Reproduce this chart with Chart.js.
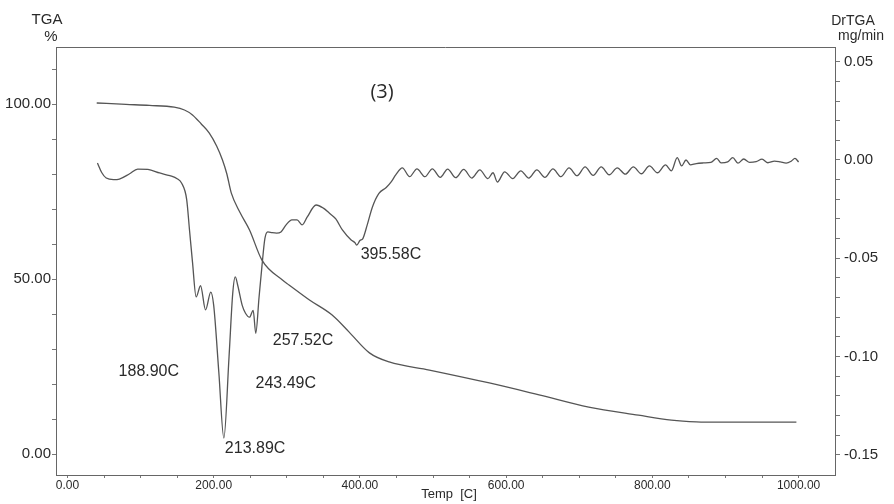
<!DOCTYPE html>
<html>
<head>
<meta charset="utf-8">
<script src="https://cdn.jsdelivr.net/npm/chart.js@4.4.1/dist/chart.umd.min.js"></script>
<style>
  body { margin: 0; background: #fff; }
  #wrap { width: 894px; height: 504px; }
</style>
</head>
<body>
<div id="wrap"><canvas id="tgaChart" width="894" height="504"></canvas></div>
<script>
"use strict";

// TGA trace: temperature (C) and remaining mass (%)
const tgaTemp = [40, 80, 112, 146, 160, 171, 183, 194, 204, 212, 218, 224, 236, 249, 266, 294, 303,
	331, 362, 385, 413, 440, 495, 577, 645, 713, 781, 826, 860, 895, 997];
const tgaMass = [100.3, 99.9, 99.6, 99.1, 98.3, 96.9, 94.3, 91.7, 88.0, 84.0, 80.0, 74.6, 69.0, 64.0, 55.4, 49.7, 48.3,
	44.0, 39.7, 34.9, 28.9, 26.3, 24.0, 20.3, 16.9, 13.4, 11.1, 9.7, 9.2, 9.1, 9.1];

// DrTGA trace: temperature (C) and rate (mg/min)
const dtgTemp = [41, 47, 53, 63, 71, 85, 96, 110, 126, 140, 150, 156, 163, 167, 171, 176, 182,
	188.90, 196, 200, 207, 213.89, 221, 226, 229.5, 233, 239, 243.49, 249, 254, 257.52,
	262, 266, 270, 274, 280, 286, 292, 299, 307, 314, 321, 328, 340, 350, 358, 367, 376, 388, 393,
	395.58, 400, 404, 410, 417, 426, 436, 443,
	449, 458, 468, 478, 489, 499, 510, 520, 531, 542, 553, 564, 575, 582, 588, 598, 609, 620,
	631, 642, 653, 664, 675, 686, 697, 708, 719, 730, 741, 752, 763, 774, 785, 796, 807, 818, 826,
	834, 840, 846, 852, 860, 870, 880, 888, 894, 903, 910, 917, 925, 933, 942, 950, 958, 967,
	975, 983, 990, 995, 1000];
const dtgRate = [-0.0015, -0.0065, -0.0092, -0.0100, -0.0097, -0.0070, -0.0046, -0.0048, -0.0066, -0.0080, -0.0095, -0.0117, -0.0200, -0.0360, -0.0520, -0.0697, -0.0640,
	-0.0763, -0.0672, -0.0740, -0.1080, -0.1415, -0.1000, -0.0680, -0.0595, -0.0640, -0.0740, -0.0780, -0.0800, -0.0765, -0.0882,
	-0.0700, -0.0540, -0.0400, -0.0366, -0.0370, -0.0372, -0.0366, -0.0330, -0.0305, -0.0305, -0.0330, -0.0290, -0.0229, -0.0245, -0.0270, -0.0300, -0.0356, -0.0407, -0.0420,
	-0.0433, -0.0410, -0.0400, -0.0330, -0.0240, -0.0170, -0.0140, -0.0110,
	-0.0076, -0.0040, -0.0085, -0.0045, -0.0085, -0.0045, -0.0088, -0.0046, -0.0090, -0.0048, -0.0092, -0.0050, -0.0095, -0.0065, -0.0112, -0.0060, -0.0095, -0.0055,
	-0.0092, -0.0050, -0.0088, -0.0045, -0.0085, -0.0040, -0.0080, -0.0035, -0.0078, -0.0035, -0.0075, -0.0040, -0.0072, -0.0035, -0.0070, -0.0030, -0.0065, -0.0025, -0.0055,
	0.0012, -0.0030, 0.0000, -0.0025, -0.0018, -0.0015, -0.0012, 0.0008, -0.0015, -0.0010, 0.0012, -0.0016, 0.0005, -0.0012, -0.0008, 0.0004, -0.0014, -0.0006,
	-0.0010, -0.0016, -0.0006, 0.0008, -0.0010];

// peaks marked on the DrTGA trace
const peakTemps = [188.90, 213.89, 243.49, 257.52, 395.58];

// axis ticks and the ones that carry a label
const tempTicks = [0, 50, 100, 150, 200, 250, 300, 350, 400, 450, 500, 550, 600, 650, 700, 750, 800, 850, 900, 950, 1000];
const tempLabels = [0, 200, 400, 600, 800, 1000];
const massTicks = [0, 10, 20, 30, 40, 50, 60, 70, 80, 90, 100, 110];
const massLabels = [0, 50, 100];
const rateTicks = [-0.15, -0.14, -0.13, -0.12, -0.11, -0.10, -0.09, -0.08, -0.07, -0.06, -0.05,
	-0.04, -0.03, -0.02, -0.01, 0.00, 0.01, 0.02, 0.03, 0.04, 0.05];
const rateLabels = [-0.15, -0.10, -0.05, 0.00, 0.05];

// where each peak label sits relative to its peak, in pixels
const peakLabelOffsets = [[-87, 62], [1, 11], [10, 70], [17, 7], [4, 10]];

const FONT = "'Liberation Sans', Arial, sans-serif";
const INK = "#2a2a2a";
const LINE = "#555";

const hasValue = (list, v) => list.some((l) => Math.abs(l - v) < 1e-6);

// frame top, axis titles and peak labels
const annotate = {
	id: "annotate",
	afterDraw(chart) {
		let ctx = chart.ctx;
		let area = chart.chartArea;
		let xs = chart.scales.x;
		let yr = chart.scales.y1;
		ctx.save();
		ctx.strokeStyle = "#666";
		ctx.lineWidth = 1;
		ctx.beginPath();
		ctx.moveTo(area.left, area.top + 0.5);
		ctx.lineTo(area.right, area.top + 0.5);
		ctx.stroke();

		ctx.fillStyle = INK;
		ctx.textBaseline = "middle";
		ctx.textAlign = "center";
		ctx.font = "15px " + FONT;
		ctx.fillText("TGA", 47, 20);
		ctx.fillText("%", 51, 37);
		ctx.font = "14px " + FONT;
		ctx.fillText("DrTGA", 853, 21);
		ctx.fillText("mg/min", 861, 36);
		ctx.font = "13px " + FONT;
		ctx.fillText("Temp  [C]", 449, 494);
		ctx.font = "20px 'Open Sans', sans-serif";
		ctx.fillText("(3)", 382, 92);

		ctx.textAlign = "left";
		ctx.font = "16px " + FONT;
		peakTemps.forEach((t, i) => {
			let v = dtgRate[dtgTemp.indexOf(t)];
			let px = xs.getPixelForValue(t) + peakLabelOffsets[i][0];
			let py = yr.getPixelForValue(v) + peakLabelOffsets[i][1];
			ctx.fillText(t.toFixed(2) + "C", px, py);
		});
		ctx.restore();
	},
};

let ctx = document.getElementById("tgaChart").getContext("2d");
new Chart(ctx, {
	type: "line",
	data: {
		datasets: [
			{
				label: "TGA",
				data: tgaTemp.map((t, i) => ({ x: t, y: tgaMass[i] })),
				yAxisID: "y",
				borderColor: LINE,
				borderWidth: 1.3,
				pointRadius: 0,
				cubicInterpolationMode: "monotone",
			},
			{
				label: "DrTGA",
				data: dtgTemp.map((t, i) => ({ x: t, y: dtgRate[i] })),
				yAxisID: "y1",
				borderColor: LINE,
				borderWidth: 1.3,
				pointRadius: 0,
				cubicInterpolationMode: "monotone",
			},
		],
	},
	options: {
		responsive: false,
		animation: false,
		layout: { padding: { top: 47 } },
		plugins: { legend: { display: false }, tooltip: { enabled: false } },
		scales: {
			x: {
				type: "linear",
				min: -15.7,
				max: 1049.8,
				afterBuildTicks: (s) => { s.ticks = tempTicks.map((v) => ({ value: v })); },
				afterFit: (s) => { s.height = 29; },
				ticks: {
					autoSkip: false,
					maxRotation: 0,
					padding: 0,
					color: INK,
					font: { family: FONT, size: 12 },
					callback: (v) => (hasValue(tempLabels, v) ? v.toFixed(2) : ""),
				},
				grid: { drawOnChartArea: false, tickLength: 3, color: "#777" },
				border: { color: "#666" },
			},
			y: {
				position: "left",
				min: -6.0,
				max: 116.3,
				afterBuildTicks: (s) => { s.ticks = massTicks.map((v) => ({ value: v })); },
				afterFit: (s) => { s.width = 56; },
				ticks: {
					autoSkip: false,
					padding: 1,
					color: INK,
					font: { family: FONT, size: 15 },
					callback: (v) => (hasValue(massLabels, v) ? v.toFixed(2) : ""),
				},
				grid: { drawOnChartArea: false, tickLength: 4, color: "#777" },
				border: { color: "#666" },
			},
			y1: {
				position: "right",
				min: -0.1603,
				max: 0.0575,
				afterBuildTicks: (s) => { s.ticks = rateTicks.map((v) => ({ value: v })); },
				afterFit: (s) => { s.width = 59; },
				ticks: {
					autoSkip: false,
					padding: 4,
					color: INK,
					font: { family: FONT, size: 15 },
					callback: (v) => (hasValue(rateLabels, v) ? (Math.abs(v) < 1e-9 ? 0 : v).toFixed(2) : ""),
				},
				grid: { drawOnChartArea: false, tickLength: 5, color: "#777" },
				border: { color: "#666" },
			},
		},
	},
	plugins: [annotate],
});
</script>
</body>
</html>
